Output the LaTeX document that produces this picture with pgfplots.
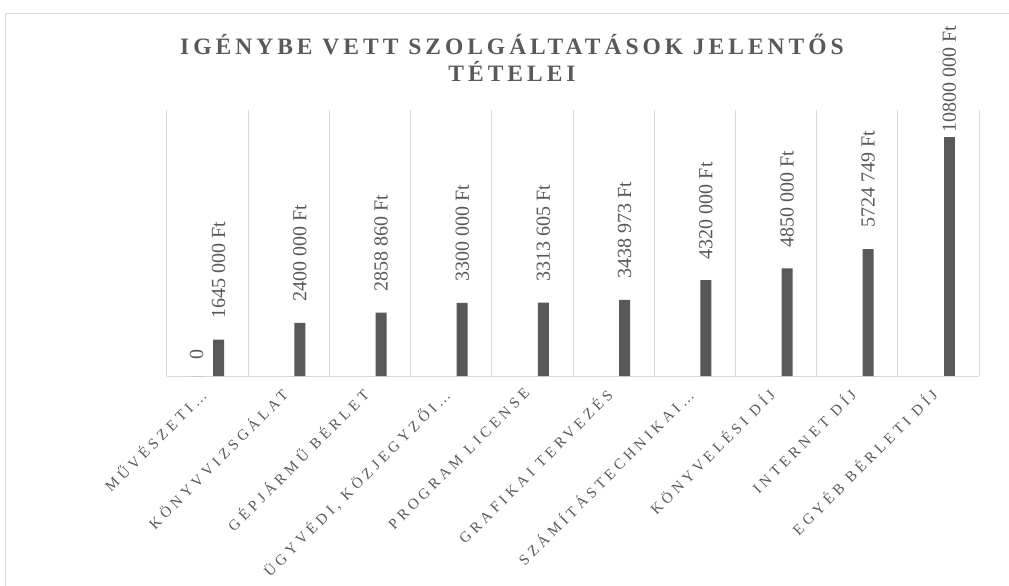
\documentclass[border=0pt]{standalone}
\usepackage{pgfplots}
\pgfplotsset{compat=1.18}
\usepackage{fontspec}
\setmainfont{Liberation Serif}
\newfontfamily\titlefont[LetterSpace=17]{Liberation Serif}
\newfontfamily\tickfont[LetterSpace=27]{Liberation Serif}
\definecolor{txt}{HTML}{595959}
\definecolor{grd}{HTML}{D9D9D9}
\begin{document}
\begin{tikzpicture}
\path[use as bounding box] (-167pt,-210pt) rectangle (842pt,376pt);
\draw[grd, line width=1pt] (-161pt,-210pt) -- (-161pt,362pt) -- (842pt,362pt);
\node[text=txt, font=\titlefont\bfseries\fontsize{23.5}{27}\selectfont, anchor=base, inner sep=0pt] at (345pt,321pt) {IGÉNYBE VETT SZOLGÁLTATÁSOK JELENTŐS};
\node[text=txt, font=\titlefont\bfseries\fontsize{23.5}{27}\selectfont, anchor=base, inner sep=0pt] at (345pt,294pt) {TÉTELEI};
\begin{axis}[
  scale only axis, width=812pt, height=266pt,
  xmin=-0.5, xmax=9.5, ymin=0, ymax=12000000,
  axis x line=bottom, axis y line=none,
  x axis line style={-, draw=grd, line width=1pt},
  xtick={0,...,9},
  xticklabels={MŰVÉSZETI…, KÖNYVVIZSGÁLAT, GÉPJÁRMŰ BÉRLET, {ÜGYVÉDI, KÖZJEGYZŐI…}, PROGRAM LICENSE, GRAFIKAI TERVEZÉS, SZÁMÍTÁSTECHNIKAI…, KÖNYVELÉSI DÍJ, INTERNET DÍJ, EGYÉB BÉRLETI DÍJ},
  xticklabel style={xshift=-9pt, rotate=45, anchor=north east, font=\tickfont\fontsize{15}{17}\selectfont, text=txt, inner sep=0pt},
  xticklabel shift=11pt,
  major tick length=0pt, minor tick length=0pt,
  minor xtick={-0.5,0.5,...,9.5},
  xminorgrids, minor grid style={draw=grd, line width=1pt},
  clip=false,
  every node near coord/.append style={rotate=90, anchor=west, font=\fontsize{20}{24}\selectfont, text=txt, inner sep=0pt},
]
% bars are offset from the category centres by 11pt (0.1355 category)
\addplot[ybar, bar width=11pt, bar shift=0pt, fill=txt, draw=none,
  nodes near coords, point meta=explicit symbolic,
  every node near coord/.append style={inner xsep=16pt}]
  coordinates {(-0.1355,0) [0]};
\addplot[ybar, bar width=11pt, bar shift=0pt, fill=txt, draw=none,
  nodes near coords, point meta=explicit symbolic,
  every node near coord/.append style={inner xsep=21pt}]
  coordinates {
  (0.1355,1645000) [1645 000 Ft]
  (1.1355,2400000) [2400 000 Ft]
  (2.1355,2858860) [2858 860 Ft]
  (3.1355,3300000) [3300 000 Ft]
  (4.1355,3313605) [3313 605 Ft]
  (5.1355,3438973) [3438 973 Ft]
  (6.1355,4320000) [4320 000 Ft]
  (7.1355,4850000) [4850 000 Ft]
  (8.1355,5724749) [5724 749 Ft]
  };
\addplot[ybar, bar width=11pt, bar shift=0pt, fill=txt, draw=none,
  nodes near coords, point meta=explicit symbolic,
  every node near coord/.append style={inner xsep=4pt}]
  coordinates {(9.1355,10800000) [10800 000 Ft]};
\end{axis}
\end{tikzpicture}
\end{document}
